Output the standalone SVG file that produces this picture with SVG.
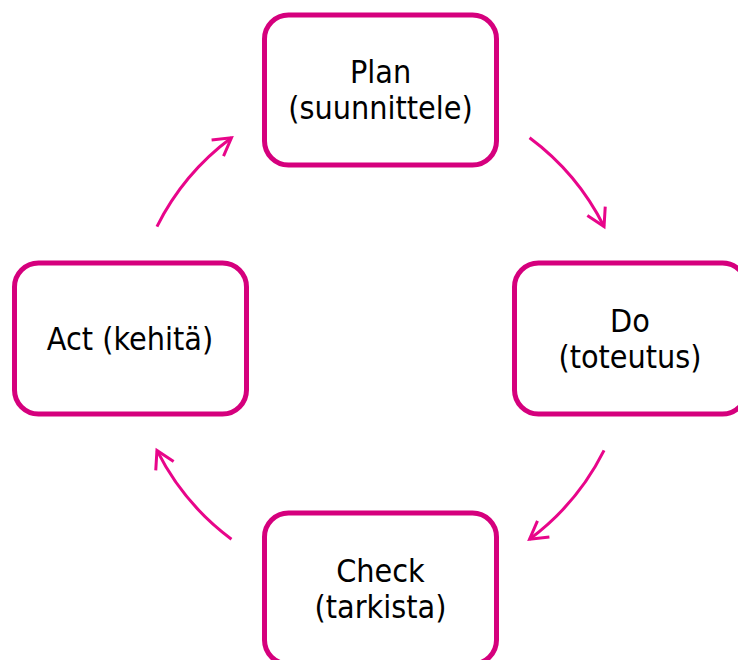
<svg xmlns="http://www.w3.org/2000/svg" width="738" height="660" viewBox="0 0 738 660">
  <style>
    .box { fill: #ffffff; stroke: #d5007d; stroke-width: 5; }
    .lbl { font-family: "DejaVu Sans Condensed", "DejaVu Sans", sans-serif; font-stretch: condensed; font-size: 32px; fill: #000000; text-anchor: middle; }
    .arc { fill: none; stroke: #e8058a; stroke-width: 3; marker-end: url(#ah); }
  </style>
  <defs>
    <marker id="ah" markerUnits="userSpaceOnUse" markerWidth="30" markerHeight="30" viewBox="-25 -15 30 30" refX="0" refY="0" orient="auto" overflow="visible">
      <path d="M-17.3,-10 L0,0 L-17.3,10" fill="none" stroke="#e8058a" stroke-width="3" stroke-linejoin="miter"/>
    </marker>
  </defs>
  <rect width="738" height="660" fill="#ffffff"/>
  <g id="connectors">
    <path class="arc" d="M529.55,137.8 A250,250 0 0 1 604.05,226.55"/>
    <path class="arc" d="M604.05,450.45 A250,250 0 0 1 529.55,539.2"/>
    <path class="arc" d="M231.45,539.2 A250,250 0 0 1 156.95,450.45"/>
    <path class="arc" d="M156.95,226.55 A250,250 0 0 1 231.45,137.8"/>
  </g>
  <g id="plan">
    <rect class="box" x="264.5" y="15" width="232" height="150" rx="24"/>
    <text class="lbl" x="380.5" y="82.5">Plan</text>
    <text class="lbl" x="380.5" y="118.5">(suunnittele)</text>
  </g>
  <g id="do">
    <rect class="box" x="514.5" y="263" width="232" height="151" rx="24"/>
    <text class="lbl" x="630" y="331.5">Do</text>
    <text class="lbl" x="630" y="367.5">(toteutus)</text>
  </g>
  <g id="check">
    <rect class="box" x="264.5" y="513" width="232" height="151" rx="24"/>
    <text class="lbl" x="380.5" y="581.5">Check</text>
    <text class="lbl" x="380.5" y="617.5">(tarkista)</text>
  </g>
  <g id="act">
    <rect class="box" x="14.5" y="263" width="232" height="151" rx="24"/>
    <text class="lbl" x="130" y="350">Act (kehitä)</text>
  </g>
</svg>
